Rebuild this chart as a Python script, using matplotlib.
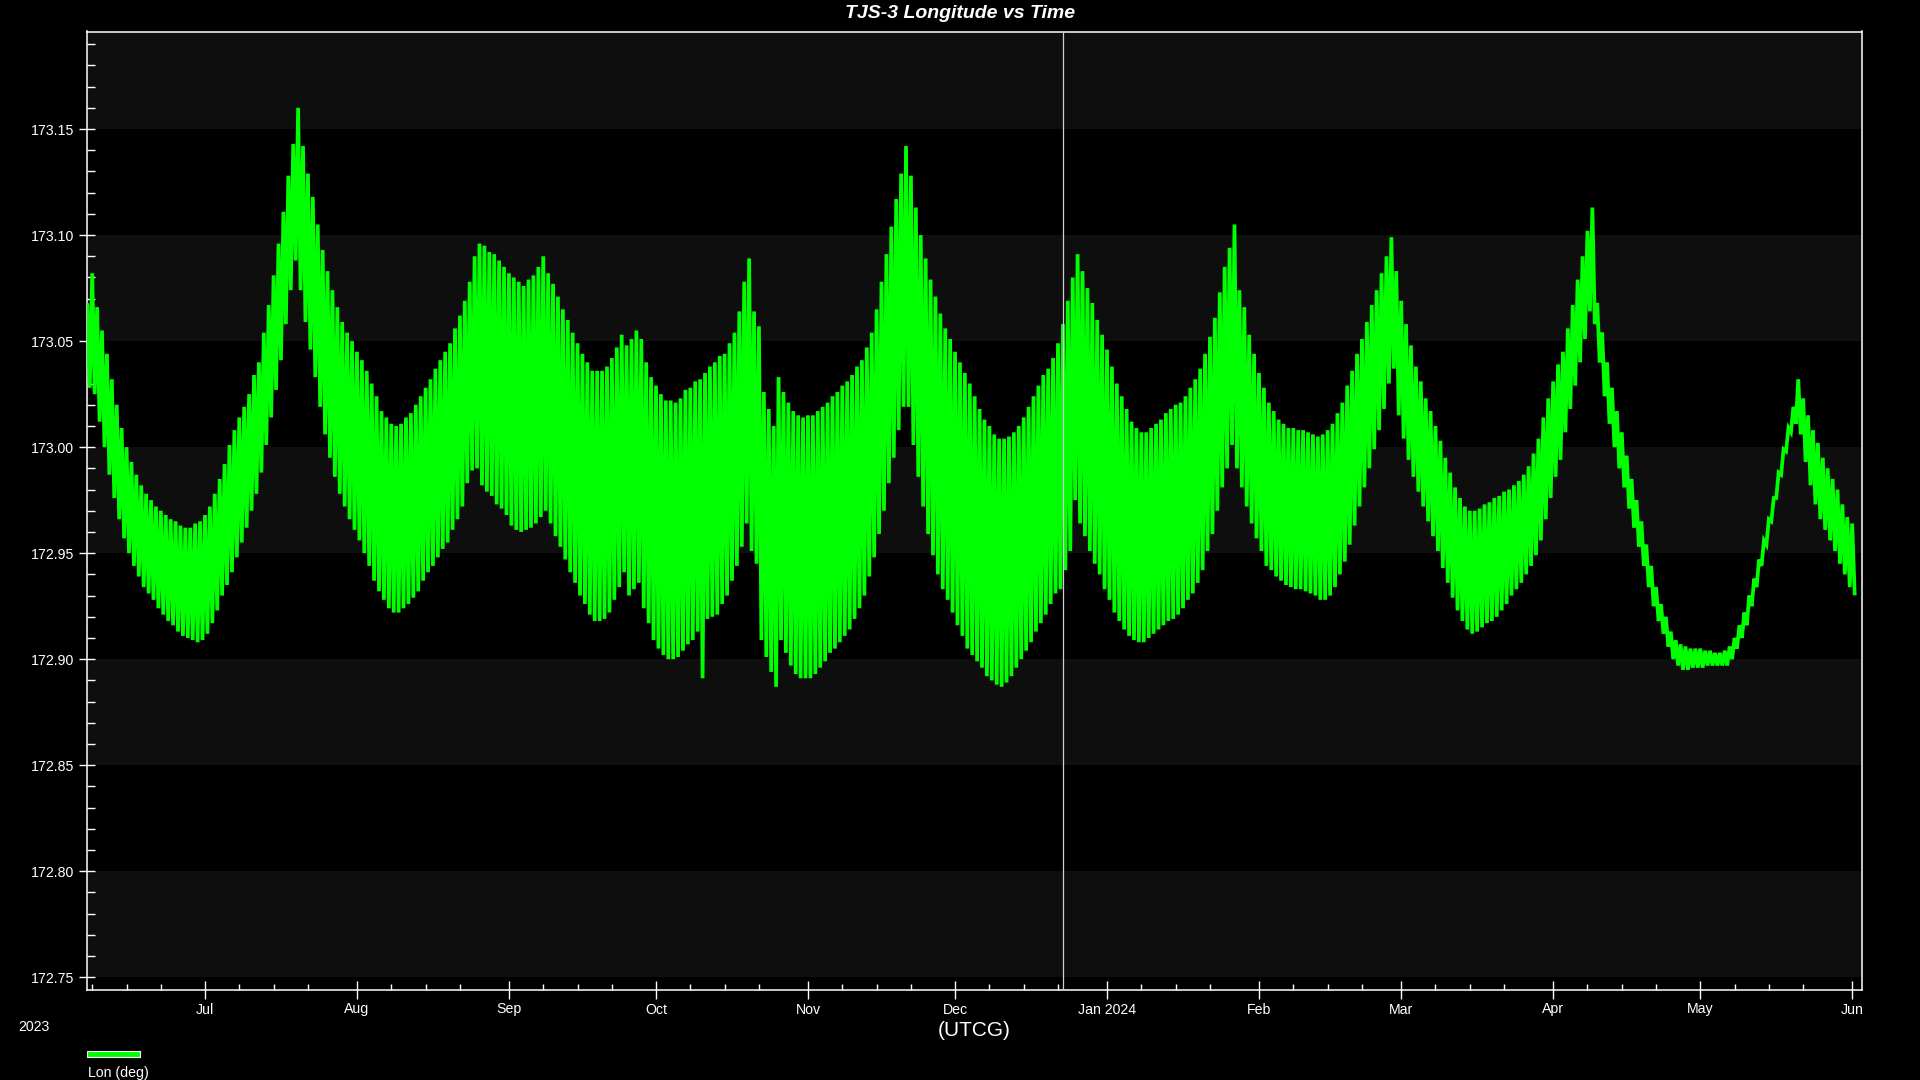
import numpy as np
import pandas as pd
import matplotlib
matplotlib.use("Agg")
import matplotlib.pyplot as plt
import matplotlib.dates as mdates
from matplotlib.ticker import FixedLocator, MultipleLocator, FuncFormatter
from matplotlib.patches import Rectangle

# ---------------- data ----------------
start_date = "2023-06-07"          # first day of the series
marker_date = "2023-12-23"         # vertical white marker line

# daily maximum of the longitude (deg), one value per day from start_date
lon_daily_max = [
    173.067, 173.082, 173.066, 173.055, 173.044, 173.032, 173.020, 173.009, 173.000, 172.993,
    172.987, 172.982, 172.978, 172.975, 172.972, 172.970, 172.968, 172.966, 172.965, 172.963,
    172.962, 172.962, 172.964, 172.965, 172.968, 172.972, 172.978, 172.985, 172.992, 173.001,
    173.008, 173.014, 173.019, 173.025, 173.034, 173.040, 173.054, 173.067, 173.081, 173.096,
    173.111, 173.128, 173.143, 173.160, 173.142, 173.129, 173.118, 173.105, 173.093, 173.083,
    173.074, 173.066, 173.059, 173.054, 173.050, 173.045, 173.041, 173.036, 173.030, 173.024,
    173.017, 173.014, 173.011, 173.010, 173.011, 173.014, 173.016, 173.020, 173.024, 173.028,
    173.032, 173.037, 173.041, 173.045, 173.049, 173.056, 173.062, 173.069, 173.078, 173.090,
    173.096, 173.095, 173.092, 173.091, 173.088, 173.085, 173.082, 173.080, 173.078, 173.076,
    173.079, 173.081, 173.085, 173.090, 173.082, 173.077, 173.071, 173.065, 173.060, 173.054,
    173.049, 173.044, 173.040, 173.036, 173.036, 173.036, 173.038, 173.042, 173.047, 173.053,
    173.048, 173.051, 173.055, 173.051, 173.040, 173.033, 173.029, 173.025, 173.022, 173.022,
    173.021, 173.023, 173.027, 173.028, 173.031, 173.032, 173.035, 173.038, 173.040, 173.043,
    173.044, 173.049, 173.054, 173.064, 173.078, 173.089, 173.064, 173.057, 173.026, 173.018,
    173.010, 173.033, 173.026, 173.021, 173.017, 173.015, 173.014, 173.015, 173.015, 173.017,
    173.019, 173.021, 173.024, 173.026, 173.029, 173.031, 173.034, 173.038, 173.041, 173.047,
    173.054, 173.065, 173.078, 173.091, 173.104, 173.117, 173.129, 173.142, 173.128, 173.113,
    173.100, 173.089, 173.079, 173.071, 173.063, 173.056, 173.051, 173.045, 173.040, 173.035,
    173.030, 173.024, 173.018, 173.013, 173.010, 173.006, 173.004, 173.004, 173.005, 173.007,
    173.010, 173.014, 173.019, 173.024, 173.029, 173.034, 173.037, 173.042, 173.049, 173.058,
    173.069, 173.080, 173.091, 173.083, 173.075, 173.068, 173.060, 173.053, 173.046, 173.038,
    173.030, 173.024, 173.018, 173.012, 173.009, 173.007, 173.007, 173.009, 173.011, 173.013,
    173.016, 173.018, 173.020, 173.021, 173.024, 173.028, 173.032, 173.037, 173.044, 173.052,
    173.061, 173.073, 173.085, 173.094, 173.105, 173.074, 173.066, 173.053, 173.044, 173.035,
    173.028, 173.021, 173.017, 173.013, 173.011, 173.009, 173.009, 173.008, 173.008, 173.007,
    173.006, 173.005, 173.006, 173.008, 173.011, 173.016, 173.021, 173.029, 173.036, 173.044,
    173.051, 173.059, 173.067, 173.074, 173.082, 173.090, 173.099, 173.083, 173.069, 173.058,
    173.048, 173.038, 173.031, 173.023, 173.017, 173.010, 173.003, 172.995, 172.988, 172.981,
    172.976, 172.972, 172.970, 172.970, 172.971, 172.973, 172.974, 172.976, 172.977, 172.979,
    172.980, 172.982, 172.984, 172.987, 172.991, 172.997, 173.004, 173.014, 173.023, 173.031,
    173.039, 173.045, 173.056, 173.067, 173.079, 173.090, 173.102, 173.113, 173.068, 173.054,
    173.040, 173.028, 173.017, 173.007, 172.996, 172.985, 172.975, 172.965, 172.954, 172.944,
    172.934, 172.926, 172.920, 172.913, 172.909, 172.907, 172.906, 172.905, 172.905, 172.905,
    172.904, 172.904, 172.903, 172.903, 172.904, 172.906, 172.910, 172.916, 172.922, 172.930,
    172.938, 172.947, 172.956, 172.966, 172.976, 172.988, 172.999, 173.009, 173.019, 173.032,
    173.023, 173.015, 173.008, 173.002, 172.995, 172.990, 172.985, 172.980, 172.973, 172.967,
    172.964,
]

# daily minimum of the longitude (deg), reached about half a day after each maximum
lon_daily_min = [
    173.028, 173.025, 173.012, 173.000, 172.987, 172.976, 172.966, 172.957, 172.950, 172.944,
    172.939, 172.934, 172.931, 172.928, 172.924, 172.921, 172.918, 172.916, 172.913, 172.911,
    172.910, 172.909, 172.908, 172.909, 172.912, 172.917, 172.923, 172.930, 172.935, 172.941,
    172.948, 172.955, 172.962, 172.970, 172.978, 172.988, 173.001, 173.014, 173.027, 173.041,
    173.058, 173.074, 173.088, 173.074, 173.059, 173.046, 173.033, 173.019, 173.006, 172.995,
    172.986, 172.978, 172.972, 172.966, 172.961, 172.956, 172.950, 172.944, 172.937, 172.932,
    172.928, 172.924, 172.922, 172.922, 172.924, 172.926, 172.929, 172.932, 172.937, 172.941,
    172.944, 172.948, 172.952, 172.955, 172.961, 172.966, 172.972, 172.983, 172.989, 172.990,
    172.982, 172.979, 172.977, 172.973, 172.971, 172.968, 172.963, 172.961, 172.960, 172.961,
    172.962, 172.964, 172.967, 172.970, 172.964, 172.958, 172.953, 172.947, 172.941, 172.936,
    172.930, 172.926, 172.921, 172.918, 172.918, 172.919, 172.922, 172.928, 172.934, 172.941,
    172.930, 172.933, 172.936, 172.924, 172.917, 172.909, 172.905, 172.902, 172.900, 172.900,
    172.901, 172.904, 172.907, 172.909, 172.913, 172.891, 172.919, 172.920, 172.921, 172.926,
    172.930, 172.937, 172.944, 172.953, 172.964, 172.951, 172.945, 172.909, 172.901, 172.894,
    172.887, 172.909, 172.903, 172.897, 172.893, 172.891, 172.891, 172.891, 172.893, 172.896,
    172.899, 172.903, 172.905, 172.908, 172.911, 172.914, 172.919, 172.924, 172.930, 172.939,
    172.948, 172.959, 172.970, 172.983, 172.995, 173.008, 173.019, 173.019, 173.001, 172.986,
    172.972, 172.959, 172.949, 172.940, 172.933, 172.928, 172.922, 172.916, 172.911, 172.905,
    172.902, 172.899, 172.896, 172.892, 172.890, 172.888, 172.887, 172.889, 172.892, 172.896,
    172.900, 172.904, 172.908, 172.913, 172.917, 172.921, 172.926, 172.931, 172.933, 172.942,
    172.951, 172.975, 172.964, 172.958, 172.951, 172.945, 172.940, 172.933, 172.928, 172.922,
    172.918, 172.914, 172.911, 172.909, 172.908, 172.908, 172.910, 172.912, 172.914, 172.916,
    172.918, 172.919, 172.921, 172.924, 172.928, 172.931, 172.936, 172.942, 172.951, 172.959,
    172.970, 172.981, 172.990, 173.001, 172.990, 172.981, 172.972, 172.964, 172.957, 172.951,
    172.944, 172.942, 172.939, 172.937, 172.935, 172.934, 172.933, 172.933, 172.932, 172.931,
    172.930, 172.928, 172.928, 172.930, 172.934, 172.940, 172.946, 172.954, 172.963, 172.972,
    172.981, 172.990, 172.999, 173.008, 173.018, 173.030, 173.037, 173.015, 173.004, 172.994,
    172.986, 172.979, 172.972, 172.965, 172.958, 172.951, 172.943, 172.936, 172.929, 172.923,
    172.918, 172.914, 172.912, 172.913, 172.915, 172.917, 172.918, 172.920, 172.923, 172.926,
    172.930, 172.933, 172.936, 172.940, 172.944, 172.949, 172.956, 172.966, 172.976, 172.986,
    172.994, 173.007, 173.018, 173.029, 173.040, 173.051, 173.064, 173.058, 173.040, 173.024,
    173.011, 173.000, 172.990, 172.981, 172.971, 172.962, 172.953, 172.944, 172.934, 172.925,
    172.918, 172.912, 172.906, 172.900, 172.897, 172.895, 172.895, 172.896, 172.896, 172.896,
    172.897, 172.897, 172.897, 172.897, 172.897, 172.900, 172.905, 172.910, 172.916, 172.925,
    172.934, 172.944, 172.954, 172.965, 172.976, 172.987, 172.998, 173.007, 173.011, 173.006,
    172.993, 172.982, 172.973, 172.966, 172.961, 172.956, 172.951, 172.945, 172.940, 172.934,
    172.931,
]

y_tick_values = [172.75, 172.80, 172.85, 172.90, 172.95, 173.00, 173.05, 173.10, 173.15]
title_text = "TJS-3 Longitude vs Time"
x_label = "(UTCG)"
year_label = "2023"
legend_label = "Lon (deg)"

# ---------------- build series ----------------
days = pd.date_range(start_date, periods=len(lon_daily_max), freq="D")
t_max = days.to_pydatetime()
t_min = (days + pd.Timedelta(hours=12)).to_pydatetime()
n = len(days)
t_all = np.empty(2 * n, dtype=object)
y_all = np.empty(2 * n)
t_all[0::2] = t_max
t_all[1::2] = t_min
y_all[0::2] = lon_daily_max
y_all[1::2] = lon_daily_min

# ---------------- figure ----------------
plt.rcParams["font.family"] = ["Liberation Sans", "DejaVu Sans"]
W, H = 1920, 1080
fig = plt.figure(figsize=(W / 100, H / 100), dpi=100, facecolor="black")
ax = fig.add_axes([86.7 / W, 1 - 990 / H, (1862 - 86.7) / W, (990 - 31.5) / H])
ax.set_facecolor("black")

ymin, ymax = 172.744, 173.196
ax.set_ylim(ymin, ymax)
x0 = pd.Timestamp("2023-06-06 21:00")
x1 = pd.Timestamp("2024-06-03 00:00")
ax.set_xlim(x0, x1)

# alternating background bands
edges = list(y_tick_values) + [ymax]
for i in range(len(edges) - 1):
    if i % 2 == 0:
        ax.axhspan(edges[i], edges[i + 1], color="#0e0e0e", lw=0, zorder=0)

ax.plot(t_all, y_all, color="#00ff00", lw=2.7, zorder=3, solid_joinstyle="miter")
ax.axvline(pd.Timestamp(marker_date), color="#cfcfcf", lw=0.9, zorder=4)

for s in ax.spines.values():
    s.set_color("white")
    s.set_linewidth(1.1)

# y ticks
ax.yaxis.set_major_locator(FixedLocator(y_tick_values))
ax.yaxis.set_minor_locator(MultipleLocator(0.01))
ax.yaxis.set_major_formatter(FuncFormatter(lambda v, p: f"{v:.2f}"))
ax.tick_params(axis="y", which="major", direction="inout", length=12, width=1,
               colors="white", labelsize=10.2, pad=3)
ax.tick_params(axis="y", which="minor", direction="in", length=6, width=1, colors="white")

# x ticks
ax.xaxis.set_major_locator(mdates.MonthLocator())
ax.xaxis.set_minor_locator(mdates.DayLocator(bymonthday=[8, 15, 22]))

def fmt_month(v, pos):
    d = mdates.num2date(v)
    return d.strftime("%b %Y") if d.month == 1 else d.strftime("%b")

ax.xaxis.set_major_formatter(FuncFormatter(fmt_month))
ax.tick_params(axis="x", which="major", direction="inout", length=13, width=1,
               colors="white", labelsize=10.2, pad=2.5)
ax.tick_params(axis="x", which="minor", direction="in", length=4.5, width=1, colors="white")

# texts
fig.text(960 / W, 1 - 13.5 / H, title_text, ha="center", va="center", color="white",
         fontsize=14, fontweight="bold", fontstyle="italic")
fig.text(974 / W, 1 - 1030 / H, x_label, ha="center", va="center", color="white", fontsize=15)
fig.text(18 / W, 1 - 1027 / H, year_label, ha="left", va="center", color="white", fontsize=10.2)

# legend
fig.patches.append(Rectangle((86.5 / W, 1 - 1056.5 / H), 53 / W, 6 / H, transform=fig.transFigure,
                             facecolor="#00ff00", edgecolor="white", lw=0.8))
fig.text(88 / W, 1 - 1073 / H, legend_label, ha="left", va="center", color="white", fontsize=10.2)

fig.savefig("out.png", dpi=100, facecolor="black")
